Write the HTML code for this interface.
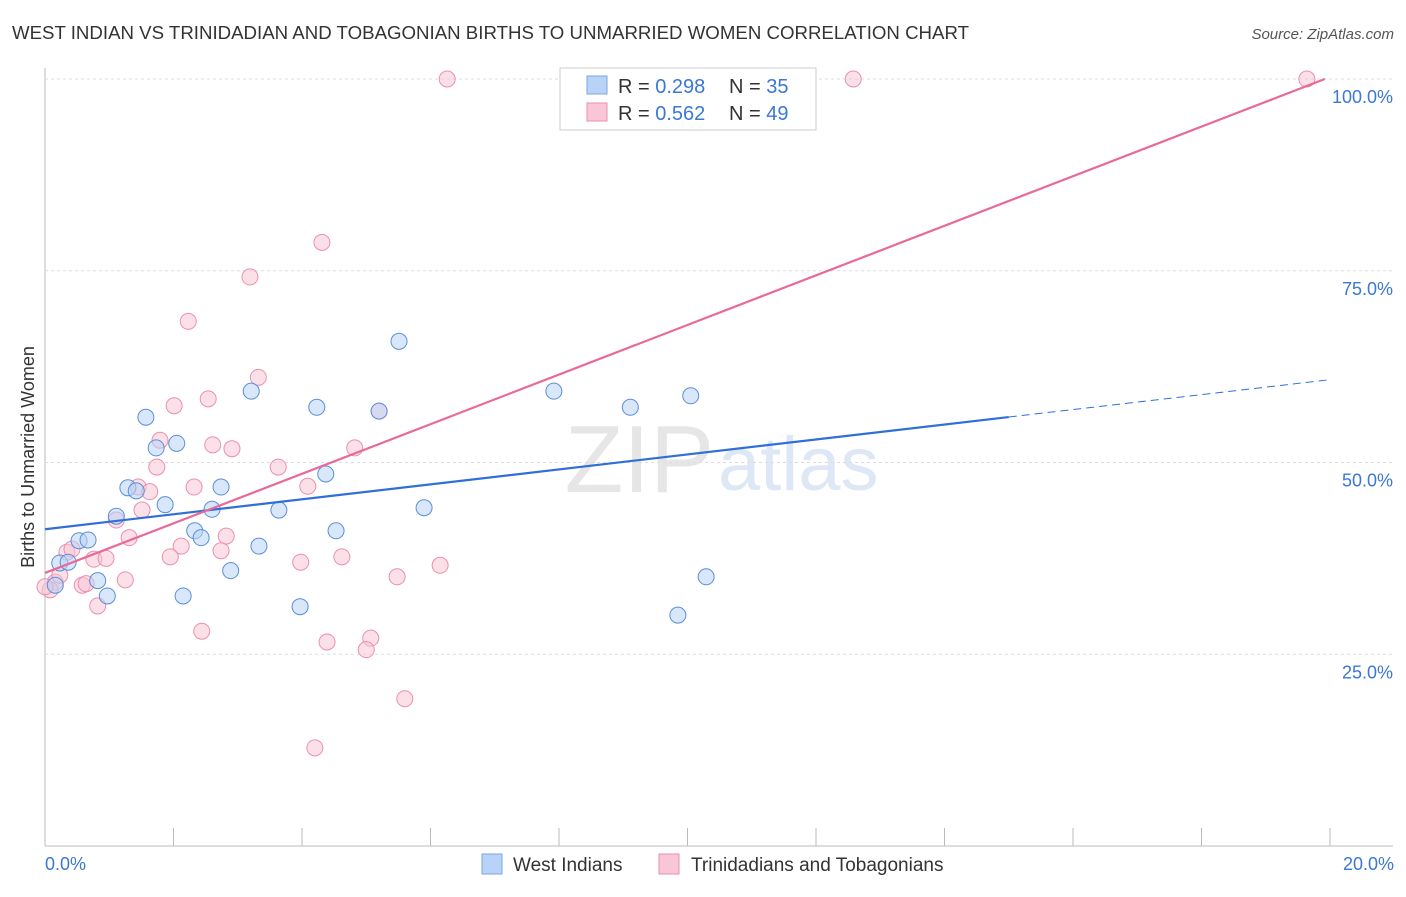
<!DOCTYPE html>
<html><head><meta charset="utf-8"><style>
body{margin:0;background:#fff;font-family:"Liberation Sans",sans-serif;}
svg text{font-family:"Liberation Sans",sans-serif;}
</style></head><body>
<svg id="c" width="1406" height="892" xmlns="http://www.w3.org/2000/svg">
<text x="12" y="39" font-size="18" fill="#333" textLength="957" lengthAdjust="spacingAndGlyphs">WEST INDIAN VS TRINIDADIAN AND TOBAGONIAN BIRTHS TO UNMARRIED WOMEN CORRELATION CHART</text>
<text x="1394" y="39" font-size="15" fill="#555" text-anchor="end" font-style="italic">Source: ZipAtlas.com</text>
<text x="714" y="492" font-size="96" fill="#e6e6e6" text-anchor="end" font-family="Liberation Serif">ZIP</text>
<text x="718" y="490" font-size="76" fill="#dde7f5">atlas</text>
<text transform="translate(34,457) rotate(-90)" font-size="18" fill="#333" text-anchor="middle">Births to Unmarried Women</text>
<g id="grid"></g><g id="marks"></g>
<g>
<rect x="560" y="68" width="256" height="62" fill="#fff" stroke="#ccc"/>
<rect x="587" y="76" width="20" height="18" fill="#b8d3f5" stroke="#7aa6e0"/>
<rect x="587" y="103" width="20" height="18" fill="#f8c6d6" stroke="#ec8fb0"/>
<text x="618" y="93" font-size="20" fill="#333">R = <tspan fill="#3a78d4">0.298</tspan></text>
<text x="729" y="93" font-size="20" fill="#333">N = <tspan fill="#3a78d4">35</tspan></text>
<text x="618" y="120" font-size="20" fill="#333">R = <tspan fill="#3a78d4">0.562</tspan></text>
<text x="729" y="120" font-size="20" fill="#333">N = <tspan fill="#3a78d4">49</tspan></text>
</g>
<g>
<rect x="482" y="854" width="20" height="20" fill="#b8d3f5" stroke="#7aa6e0"/>
<text x="513" y="871" font-size="19" fill="#333">West Indians</text>
<rect x="659" y="854" width="20" height="20" fill="#f8c6d6" stroke="#ec8fb0"/>
<text x="691" y="871" font-size="19" fill="#333">Trinidadians and Tobagonians</text>
</g>
<text x="45" y="870" font-size="18" fill="#3a78d4">0.0%</text>
<text x="1394" y="870" font-size="18" fill="#3a78d4" text-anchor="end">20.0%</text>
</svg>
<script>
const yTicks=[25,50,75,100];
const xTicks=[0,2,4,6,8,10,12,14,16,18,20];
const blueX=[.16,.23,.36,.82,.97,.53,.67,1.11,1.29,1.42,1.57,1.73,1.87,2.05,2.15,2.33,2.43,2.60,2.74,2.89,3.21,3.33,3.64,3.97,4.23,4.37,4.53,5.20,5.51,5.90,7.92,9.11,9.85,10.05,10.29];
const blueY=[34.0,36.9,37.0,34.6,32.6,39.8,39.9,43.0,46.7,46.3,55.9,51.9,44.5,52.5,32.6,41.1,40.2,43.9,46.8,35.9,59.3,39.1,43.8,31.2,57.2,48.5,41.1,56.7,65.8,44.1,59.3,57.2,30.1,58.7,35.1];
const pinkX=[6.26,12.58,19.64,4.31,3.19,2.23,3.32,2.01,2.54,5.20,1.79,2.61,2.91,4.82,1.74,3.63,4.09,1.45,2.32,1.63,1.51,1.11,1.31,2.82,2.12,1.95,2.74,.34,.42,.76,.95,3.98,4.62,6.15,5.48,1.25,.58,.64,.16,.08,.82,2.44,4.39,5.07,5.00,5.60,4.20,.23,0];
const pinkY=[100,100,100,78.7,74.2,68.4,61.1,57.4,58.3,56.7,52.9,52.3,51.8,51.9,49.4,49.4,46.9,46.8,46.8,46.2,43.8,42.5,40.2,40.4,39.1,37.7,38.5,38.3,38.7,37.4,37.5,37.0,37.7,36.6,35.1,34.7,34.0,34.2,34.4,33.4,31.3,28.0,26.6,27.1,25.6,19.2,12.8,35.3,33.8];
const blueTrend=[41.3,60.8]; // y at x=0, x=20
const pinkTrend=[35.6,100,19.92]; // y0, y-end, x-end
const blueSolidEnd=15.0;
const X=v=>45+v*64.25, Y=v=>846-v*7.67;
const NS="http://www.w3.org/2000/svg";
const grid=document.getElementById('grid'), marks=document.getElementById('marks');
function el(t,a,p){const e=document.createElementNS(NS,t);for(const k in a)e.setAttribute(k,a[k]);p.appendChild(e);return e;}
let ax=el('line',{x1:45,y1:68,x2:45,y2:846,stroke:'#bbb'},grid);


let bx=el('line',{x1:45,y1:846,x2:1393,y2:846,stroke:'#bbb'},grid);


yTicks.forEach(t=>{
 const g=el('line',{x1:45,y1:Y(t),x2:1393,y2:Y(t),stroke:'#ddd','stroke-dasharray':'3,3'},grid);
 
 
 const tx=el('text',{x:1393,y:Y(t)+24,'font-size':18,fill:'#3a78d4','text-anchor':'end'},grid);
 tx.textContent=t.toFixed(1)+'%';
 
 
});
xTicks.forEach(t=>{
 const k=el('line',{x1:X(t),y1:828,x2:X(t),y2:846,stroke:'#bbb'},grid);
 
 
});
function dot(x,y,f,s,n){const c=el('circle',{cx:X(x),cy:Y(y),r:8,fill:f,'fill-opacity':0.55,stroke:s,'stroke-width':1},marks);
 
 }
pinkX.forEach((x,i)=>dot(x,pinkY[i],'#f8c6d6','#ec8fb0','pink-point'));
blueX.forEach((x,i)=>dot(x,blueY[i],'#b8d3f5','#5b8fd8','blue-point'));
const bAt=x=>blueTrend[0]+(blueTrend[1]-blueTrend[0])*x/20;
let l1=el('line',{x1:X(0),y1:Y(bAt(0)),x2:X(blueSolidEnd),y2:Y(bAt(blueSolidEnd)),stroke:'#2f6fd6','stroke-width':2.2},marks);


let l2=el('line',{x1:X(blueSolidEnd),y1:Y(bAt(blueSolidEnd)),x2:X(20),y2:Y(bAt(20)),stroke:'#2f6fd6','stroke-width':1,'stroke-dasharray':'8,5'},marks);


let l3=el('line',{x1:X(0),y1:Y(pinkTrend[0]),x2:X(pinkTrend[2]),y2:Y(pinkTrend[1]),stroke:'#e8699a','stroke-width':2.2},marks);


</script>
</body></html>
